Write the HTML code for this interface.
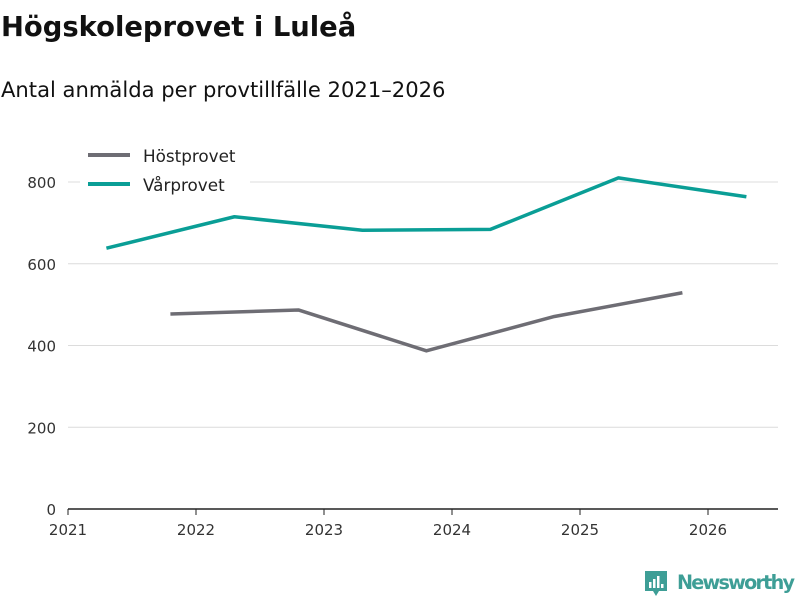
<!DOCTYPE html>
<html><head><meta charset="utf-8"><style>
body{margin:0;width:800px;height:600px;background:#fff;font-family:"DejaVu Sans","Liberation Sans",sans-serif;overflow:hidden}
svg text{font-family:"DejaVu Sans","Liberation Sans",sans-serif}
</style></head><body>
<svg width="800" height="600">
<text x="1" y="36" font-size="27.4" font-weight="bold" fill="#111">Högskoleprovet i Luleå</text>
<text x="1" y="97" font-size="21.1" fill="#111">Antal anmälda per provtillfälle 2021–2026</text>
<g id="grid"></g>
<g id="axes"></g>
<g id="series"></g>
<g>
<rect x="80" y="142" width="170" height="56" fill="#fff"/>
<line x1="88" y1="155" x2="130" y2="155" stroke="#6e6d74" stroke-width="4"/>
<text x="143" y="162" font-size="16.8" fill="#222">Höstprovet</text>
<line x1="88" y1="184" x2="130" y2="184" stroke="#0a9e96" stroke-width="4"/>
<text x="143" y="191" font-size="16.8" fill="#222">Vårprovet</text>
</g>
<g>
<path d="M645 571h22v20h-8l-3 5-3-5h-8z" fill="#3e9e96"/>
<rect x="649" y="582" width="2.5" height="6" fill="#fff"/><rect x="653" y="579" width="2.5" height="9" fill="#fff"/><rect x="657" y="576" width="2.5" height="12" fill="#fff"/><rect x="661" y="584" width="2.5" height="4" fill="#fff"/>
<text x="677" y="589" font-size="19.2" font-weight="bold" fill="#3e9e96" textLength="118">Newsworthy</text>
</g>
</svg>
<script>
const years=[2021,2022,2023,2024,2025,2026];
const yTicks=[0,200,400,600,800];
const hostX=[2021.8,2022.8,2023.8,2024.8,2025.8];
const hostV=[477,487,387,471,529];
const varX=[2021.3,2022.3,2023.3,2024.3,2025.3,2026.3];
const varV=[638,715,682,684,810,764];
const NS="http://www.w3.org/2000/svg";
const xs=y=>68+(y-2021)*128;
const ys=v=>509-v*(327/800);
function mk(t,a,p){const e=document.createElementNS(NS,t);for(const k in a)e.setAttribute(k,a[k]);p.appendChild(e);return e;}
const grid=document.getElementById('grid'),axes=document.getElementById('axes'),ser=document.getElementById('series');
yTicks.forEach(v=>{
 if(v>0){const l=mk('line',{x1:68,x2:778,y1:ys(v),y2:ys(v),stroke:'#dcdcdc','stroke-width':1},grid);
 
 }
 const t=mk('text',{x:56,y:ys(v)+6,'font-size':15,'text-anchor':'end',fill:'#333'},axes);t.textContent=v;
 
 
});
const ax=mk('line',{x1:68,x2:778,y1:509,y2:509,stroke:'#222','stroke-width':1.5},axes);


years.forEach(y=>{
 mk('line',{x1:xs(y),x2:xs(y),y1:509,y2:515,stroke:'#222'},axes);
 const t=mk('text',{x:xs(y),y:535,'font-size':15,'text-anchor':'middle',fill:'#333'},axes);t.textContent=y;
 
 
});
function line(X,V,c,n){const p=mk('polyline',{points:X.map((x,i)=>xs(x)+','+ys(V[i])).join(' '),fill:'none',stroke:c,'stroke-width':3.5,'stroke-linejoin':'round'},ser);
 
 }
line(hostX,hostV,'#6e6d74','line-hostprovet');
line(varX,varV,'#0a9e96','line-varprovet');
</script>
</body></html>
